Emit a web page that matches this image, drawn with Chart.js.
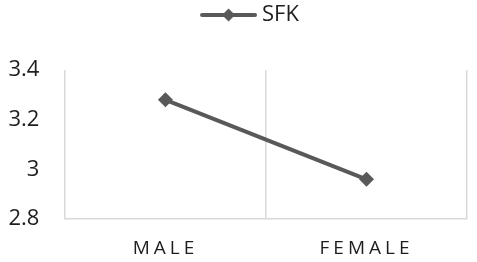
<!DOCTYPE html>
<html>
<head>
<meta charset="utf-8">
<script src="https://cdn.jsdelivr.net/npm/chart.js@4/dist/chart.umd.min.js"></script>
<style>
html,body{margin:0;padding:0;background:#fff;}
#wrap{width:477px;height:262px;}
</style>
</head>
<body>
<div id="wrap"><canvas id="c" width="477" height="262"></canvas></div>
<script>
const categories = ["MALE", "FEMALE"];
const seriesName = "SFK";
const sfkValues = [3.28, 2.96];
const yTicks = [2.8, 3.0, 3.2, 3.4];

const lineColor = '#595959';
const gridColor = '#d9d9d9';
const textColor = '#1e1e1e';

// legend icon: line with diamond marker (drawn on the right part of a wider image)
const icon = document.createElement('canvas');
icon.width = 104; icon.height = 16;
(function(){
  const g = icon.getContext('2d');
  g.strokeStyle = lineColor; g.lineWidth = 4; g.lineCap = 'round';
  g.beginPath(); g.moveTo(49, 8); g.lineTo(102, 8); g.stroke();
  g.fillStyle = lineColor;
  g.beginPath(); g.moveTo(75.5, 1.5); g.lineTo(82, 8); g.lineTo(75.5, 14.5); g.lineTo(69, 8); g.closePath(); g.fill();
})();

const letterSpacingPlugin = {
  id: 'xLetterSpacing',
  afterUpdate(chart) {
    const s = chart.scales.x;
    if (s && !s._lsWrapped) {
      const orig = s.drawLabels;
      s.drawLabels = function(area) {
        const c = this.ctx;
        const prev = c.letterSpacing;
        c.letterSpacing = '4px';
        orig.call(this, area);
        c.letterSpacing = prev || '0px';
      };
      s._lsWrapped = true;
    }
  }
};

const legendSpacing = {
  id: 'legendSpacing',
  beforeInit(chart) {
    const fit = chart.legend.fit;
    chart.legend.fit = function() {
      fit.bind(chart.legend)();
      this.height += 34;
    };
  }
};

new Chart(document.getElementById('c'), {
  type: 'line',
  data: {
    labels: categories,
    datasets: [{
      label: seriesName,
      data: sfkValues,
      borderColor: lineColor,
      backgroundColor: lineColor,
      borderWidth: 4,
      pointStyle: 'rectRot',
      pointRadius: 7.5,
      pointBorderWidth: 0,
      pointBackgroundColor: lineColor,
      tension: 0
    }]
  },
  options: {
    responsive: false,
    animation: false,
    devicePixelRatio: 1,
    layout: { padding: { left: -9, right: 10, top: 0, bottom: -17 } },
    plugins: {
      tooltip: { enabled: false },
      legend: {
        position: 'top',
        labels: {
          usePointStyle: true,
          pointStyleWidth: 92,
          padding: 4,
          color: textColor,
          font: { family: "'Open Sans'", size: 22 },
          generateLabels(chart) {
            const items = Chart.defaults.plugins.legend.labels.generateLabels(chart);
            items.forEach(it => { it.pointStyle = icon; it.fontColor = textColor; });
            return items;
          }
        }
      }
    },
    scales: {
      x: {
        offset: true,
        grid: { display: true, offset: true, color: gridColor, lineWidth: 1.5, drawTicks: false },
        border: { display: true, color: gridColor, width: 1.5 },
        ticks: { color: textColor, padding: 18.6, font: { family: "'Open Sans'", size: 19 } }
      },
      y: {
        min: yTicks[0], max: yTicks[yTicks.length - 1],
        grid: { display: false },
        border: { display: false },
        ticks: {
          stepSize: yTicks[1] - yTicks[0],
          color: textColor, padding: 17.5,
          font: { family: "'Open Sans'", size: 22 },
          callback: (v) => String(parseFloat(Number(v).toFixed(1)))
        }
      }
    }
  },
  plugins: [letterSpacingPlugin, legendSpacing]
});
</script>
</body>
</html>
